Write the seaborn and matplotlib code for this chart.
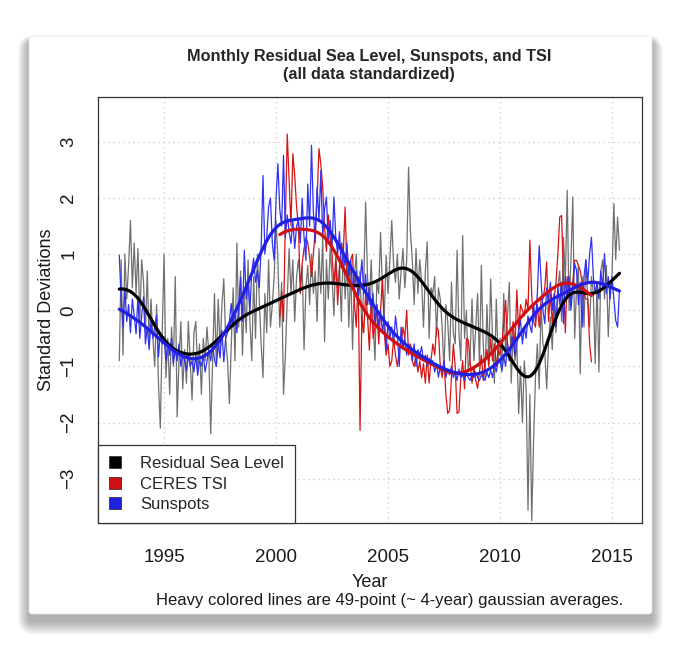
import numpy as np
import pandas as pd
import matplotlib
matplotlib.use("Agg")
import matplotlib.pyplot as plt
from matplotlib.patches import FancyBboxPatch, Patch
import seaborn as sns

# monthly residual sea level, Jan 1993 - May 2015 (standardized)
sea_level = [
    -0.9, 0.9, -0.8, 1.0, 0.2, 0.8, 1.6, 0.4, 1.2, 0.3, 1.1, -0.2,        # 1993
    0.9, 0.5, -0.4, 0.7, -0.6, 0.2, -0.5, -1.0, 0.1, -1.3, -2.1, -0.4,    # 1994
    1.0, -1.2, -0.5, -1.5, -0.3, -1.0, 0.6, -1.9, -0.9, -0.2, -1.4, -0.7, # 1995
    -1.3, -0.2, -0.9, -1.6, -0.4, -0.2, -1.1, -0.6, -1.5, -0.5, -0.9, -0.3,  # 1996
    -0.8, -2.2, -0.9, 0.3, -1.0, 0.2, -0.7, 0.1, 0.56, -0.5, -0.9, -1.66,  # 1997
    -0.6, 0.4, -0.9, 1.2, -0.3, 0.7, -0.8, 0.3, -0.4, 0.9, -0.2, -0.9,    # 1998
    0.6, -0.5, 1.0, 0.2, -0.6, -1.2, 0.3, -0.4, 0.9, -0.3, 0.1, 0.6,      # 1999
    1.6, 0.9, -0.3, 0.5, -1.5, -0.8, 0.2, 1.1, 0.3, 0.9, -0.2, 0.6,       # 2000
    0.9, 0.5, 0.8, -0.7, 0.4, 0.8, 0.1, 1.0, 0.3, 0.7, -0.2, 1.1,         # 2001
    0.3, 1.3, -0.56, 0.9, 0.2, 1.1, 0.6, -0.1, 1.0, 0.4, 0.8, -0.2,       # 2002
    1.2, 0.2, 0.9, -0.3, 0.8, -0.7, 0.6, 1.0, 0.1, 0.7, -0.4, 0.5,        # 2003
    1.93, 0.6, 0.1, 0.9, -0.2, -0.89, 0.5, 0.3, 1.39, 0.4, -0.1, 0.98,    # 2004
    0.3, 0.9, 1.6, 0.8, 0.5, 1.0, 0.2, 0.7, 1.1, 0.4, 0.9, 2.55,          # 2005
    1.4, 0.9, 0.1, 1.1, 0.3, 0.9, 0.5, -0.3, 0.7, 1.22, -0.5, 0.4,        # 2006
    0.3, 0.6, -0.47, 0.4, 0.2, -0.3, -1.07, 0.1, -0.2, -0.9, 0.5, -0.4,   # 2007
    -0.6, 1.07, -0.4, -0.9, 1.33, -0.5, 0.0, -1.1, -0.8, 0.2, -0.9, -0.3, # 2008
    0.3, -1.0, 0.8, -0.6, -1.2, 0.1, -0.9, 0.56, -0.5, -1.3, 0.2, -0.9,   # 2009
    -0.5, -1.1, 0.3, -0.8, -0.1, 0.5, -1.3, -0.4, -0.9, -0.6, -1.84, -1.0,  # 2010
    -2.0, -0.9, -1.4, -3.56, -1.5, -3.75, -2.31, -1.2, -0.6, -1.4, 0.1, -0.6,  # 2011
    -0.75, -1.4, -0.6, -0.12, -0.7, 0.2, -0.4, 0.41, 0.7, -0.2, 1.3, 0.5,  # 2012
    2.14, 0.0, 0.9, 2.02, -0.5, 0.4, 0.8, -1.13, 0.6, -0.3, 0.9, 0.2,     # 2013
    -0.3, 0.6, 0.3, -0.95, 0.5, -1.1, 0.7, 0.9, 0.2, 0.8, -0.47, 0.4,     # 2014
    0.6, 1.9, 0.9, 1.66, 1.07,                                            # 2015
]

# monthly sunspot number, Jan 1993 - May 2015 (standardized)
sunspots = [
    0.98, 0.2, -0.3, 0.4, -0.2, 0.1, -0.4, 0.2, -0.1, -0.42, 0.24, -0.5,
    -0.1, 0.24, -0.6, -0.3, -0.7, -0.2, -0.5, -0.3, -0.09, -0.83, -0.4, -0.6,
    -0.47, -0.9, -0.6, -0.8, -0.5, -0.95, -0.7, -0.9, -0.6, -1.0, -0.8, -0.9,
    -1.07, -0.8, -1.0, -0.9, -1.1, -0.8, -1.16, -0.9, -1.0, -0.8, -1.1, -0.9,
    -0.71, -0.9, -0.6, -0.89, -1.0, -0.6, -0.85, -0.36, -0.92, -0.5, -0.4, -0.2,
    0.12, -0.3, 0.0, -0.4, 0.1, 0.59, -0.2, 1.07, 0.2, 0.5, 0.0, 0.7,
    0.93, 0.5, 0.7, 0.4, 1.1, 2.40, 1.0, 1.3, 1.84, 2.0, 1.2, 0.89,
    2.0, 2.61, 1.8, 1.5, 2.76, 1.3, 1.7, 1.4, 1.19, 1.6, 1.1, 1.5,
    1.6, 1.2, 2.0, 1.3, 0.89, 2.25, 1.5, 2.94, 1.75, 1.2, 2.2, 1.6,
    2.49, 1.3, 1.8, 2.02, 1.2, 1.6, 1.1, 2.02, 1.3, 1.0, 1.4, 0.75,
    1.0, 0.8, 1.2, 0.6, 0.9, 0.4, 0.36, 0.7, 0.2, 0.5, 0.9, 0.3,
    0.64, 0.1, 0.4, 0.0, 0.3, -0.24, 0.1, -0.3, 0.0, -0.4, -0.1, -0.71,
    -0.2, -0.5, -0.3, -0.6, -0.1, -0.4, -1.0, -0.3, -0.7, -0.5, -0.8, -0.6,
    -0.7, -0.9, -0.6, -1.0, -0.7, -0.8, -0.65, -0.9, -0.8, -1.0, -0.85, -0.9,
    -0.9, -1.1, -0.95, -1.19, -1.0, -1.1, -0.9, -1.2, -1.05, -1.15, -1.0, -1.2,
    -1.1, -1.25, -1.05, -1.2, -1.15, -1.25, -1.1, -1.2, -1.25, -1.15, -1.2, -1.1,
    -1.2, -1.25, -1.15, -1.2, -1.25, -1.1, -1.2, -1.07, -1.2, -0.95, -1.1, -0.9,
    -0.9, -1.07, -0.83, -1.0, -0.59, -0.9, -0.65, -0.47, -0.8, -0.6, -0.35, -0.18,
    -0.6, -0.3, -0.5, -0.1, -0.27, -0.4, 0.1, -0.2, 0.3, 1.15, 0.53, 0.0,
    -0.24, 0.4, 0.2, 0.5, 0.0, 0.3, -0.3, 0.4, 0.1, 0.5, -0.24, 0.6,
    0.2, 0.6, 0.0, 0.4, 0.83, 0.71, 0.1, 0.5, -0.3, 0.6, 0.9, 0.5,
    1.0, 1.3, 0.6, 0.3, 0.5, 0.2, 0.7, 0.4, 1.01, 0.3, 0.6, 0.2,
    0.6, 0.2, -0.18, -0.3, 0.36,
]

# monthly CERES TSI, Mar 2000 - Feb 2014 (standardized)
tsi = [
    -0.12, 0.34, -0.2, 1.6, 3.14, 2.3, 1.5, 2.79, 2.4, 1.84,
    1.5, 0.3, 0.83, 1.1, 1.3, 1.2, 0.95, 0.6, 1.0, 1.42, 2.0, 2.88,
    2.6, 2.2, 1.47, 1.05, 1.7, 1.3, 1.0, 0.47, 0.9, 0.1, 0.7, 1.2,
    1.0, 1.84, 0.7, 0.6, 0.9, 1.0, 0.12, -0.3, 0.6, -2.14, -0.1, -0.4,
    0.3, -0.1, -0.71, 0.2, -0.5, -0.3, 0.1, -0.6, 0.0, 0.59, -0.4, -0.8,
    -0.6, -1.0, -0.9, -0.5, -0.8, -1.0, -0.7, -0.6, -0.3, -0.5, 0.0, -0.8,
    -0.6, -0.9, -1.0, -0.8, -1.1, -0.9, -1.2, -0.95, -1.3, -0.8, -1.3, -0.9,
    -0.6, -0.8, -0.3, -0.36, -1.0, -1.2, -0.9, -1.5, -1.84, -1.78, -1.2, -0.6,
    -1.0, -1.84, -1.81, -1.2, -0.9, -1.4, -0.5, -0.53, -0.9, -1.3, -1.0, -1.25,
    -1.39, -1.1, -0.8, -1.25, -0.9, -0.7, -1.0, -0.5, -0.9, -0.6, -1.0, -0.7,
    -0.8, -0.6, -0.24, 0.18, -0.6, -0.9, -0.59, -0.2, -0.7, 0.36, -0.4, 0.1,
    0.0, -0.1, 0.2, 0.0, 1.25, 0.26, -0.2, -0.3, 0.1, -0.3, 0.2, 0.2,
    0.4, 0.86, -0.2, 0.3, -0.24, 0.2, 0.5, 1.0, 1.66, 1.69, 0.6, -0.4,
    0.6, 0.3, 0.13, 0.5, 0.89, 0.89, 0.8, 0.7, 0.5, 0.3, 0.2, 0.2,
    -0.59, -0.92,
]

labels = ["Residual Sea Level", "CERES TSI", "Sunspots"]
thin_colors = ["#707070", "#d41414", "#3030f0"]
heavy_colors = ["#000000", "#d01010", "#2020e0"]


def gauss_avg(v, n=49):
    # 49-point gaussian average, weights renormalised at the ends
    half = n // 2
    k = np.exp(-0.5 * (np.arange(-half, half + 1) / (n / 6.0)) ** 2)
    v = np.asarray(v, dtype=float)
    return np.convolve(v, k, mode="same") / np.convolve(np.ones_like(v), k, mode="same")


frames = []
for name, vals, start in [(labels[0], sea_level, 1993.0),
                          (labels[1], tsi, 2000 + 2 / 12),
                          (labels[2], sunspots, 1993.0)]:
    t = start + np.arange(len(vals)) / 12.0
    frames.append(pd.DataFrame({"year": t, "sd": vals, "smooth": gauss_avg(vals), "series": name}))
df = pd.concat(frames, ignore_index=True)

sns.set_style("white")
plt.rcParams["font.family"] = ["Liberation Sans", "DejaVu Sans"]

fig = plt.figure(figsize=(6.81, 6.51), dpi=100)
fig.patch.set_facecolor("white")

# window card with a soft drop shadow (mostly below the card)
W, H = 681.0, 651.0
cx0, cy0, cx1, cy1 = 29, 36, 652, 614
for i in range(14, 0, -1):
    top = cy0 + 6 - 0.5 * i
    bot = cy1 + 7 + i
    sh = FancyBboxPatch(((cx0 - 0.8 * i) / W, 1 - bot / H),
                        (cx1 - cx0 + 1.6 * i) / W, (bot - top) / H,
                        boxstyle="round,pad=0,rounding_size=%f" % ((4 + i) / W),
                        transform=fig.transFigure, facecolor="black",
                        edgecolor="none", alpha=0.024, zorder=-10)
    fig.patches.append(sh)
card = FancyBboxPatch((cx0 / W, 1 - cy1 / H), (cx1 - cx0) / W, (cy1 - cy0) / H,
                      boxstyle="round,pad=0,rounding_size=0.005",
                      transform=fig.transFigure, facecolor="white",
                      edgecolor="#e8e8e8", lw=0.5, zorder=-9)
fig.patches.append(card)

ax = fig.add_axes([98 / W, 1 - 523 / H, 544 / W, 426 / H])
ax.set_facecolor("white")

for name, c in zip(labels, thin_colors):
    sub = df[df.series == name]
    sns.lineplot(data=sub, x="year", y="sd", color=c, lw=0.9, ax=ax,
                 estimator=None, sort=False, legend=False)
for name, c in zip(labels, heavy_colors):
    sub = df[df.series == name]
    sns.lineplot(data=sub, x="year", y="smooth", color=c, lw=2.3, ax=ax,
                 estimator=None, sort=False, legend=False)

ax.set_xlim(1992.05, 2016.34)
ax.set_ylim(-3.79, 3.80)
ax.set_xticks([1995, 2000, 2005, 2010, 2015])
ax.set_yticks([-3, -2, -1, 0, 1, 2, 3])
ax.grid(True, color="#c8c8c8", linestyle=(0, (1, 3)), lw=0.9)
for s in ax.spines.values():
    s.set_color("#333333")
    s.set_linewidth(0.9)
ax.tick_params(axis="both", direction="out", length=8, width=0.9,
               color="#333333", labelsize=13.5, labelcolor="#1a1a1a")
ax.tick_params(axis="x", pad=10.5)
ax.tick_params(axis="y", pad=7, labelrotation=90)
plt.setp(ax.get_yticklabels(), va="center")
ax.set_xlabel("Year", fontsize=13, labelpad=6, color="#1a1a1a")
ax.set_ylabel("Standard Deviations", fontsize=13, labelpad=4, color="#1a1a1a")

handles = [Patch(facecolor=c, edgecolor="#333333", lw=0.6) for c in heavy_colors]
leg = ax.legend(handles, labels, loc="lower left", bbox_to_anchor=(0, 0),
                borderaxespad=0, fontsize=12, frameon=True, fancybox=False,
                framealpha=1, edgecolor="#333333", handlelength=0.7,
                handleheight=0.7, handletextpad=1.2, labelspacing=0.33,
                borderpad=0.65)
leg.get_frame().set_linewidth(0.9)

fig.text(369 / W, 1 - 56 / H, "Monthly Residual Sea Level, Sunspots, and TSI",
         ha="center", va="center", fontsize=11.7, fontweight="bold")
fig.text(369 / W, 1 - 75 / H, "(all data standardized)",
         ha="center", va="center", fontsize=11.7, fontweight="bold")
fig.text(390 / W, 1 - 601 / H,
         "Heavy colored lines are 49-point (~ 4-year) gaussian averages.",
         ha="center", va="center", fontsize=12, color="#1a1a1a")

fig.savefig("out.png", dpi=100, facecolor="white")
